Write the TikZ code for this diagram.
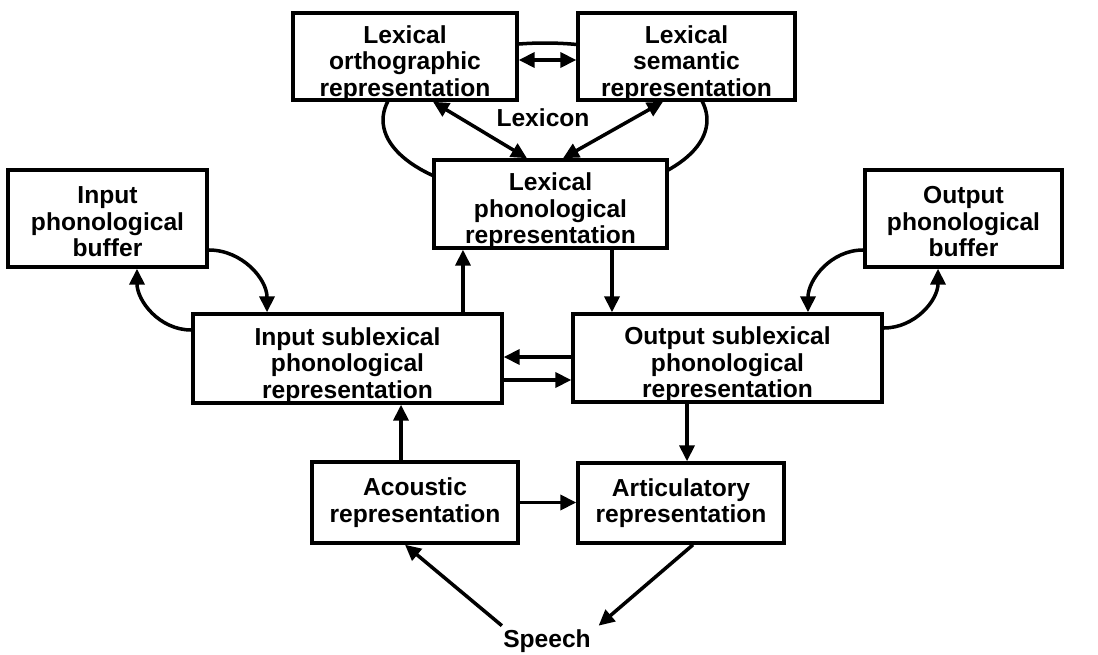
\documentclass[tikz,border=0pt]{standalone}
\usepackage{fontspec}
\setmainfont{Liberation Sans}
\usetikzlibrary{arrows.meta}

\begin{document}
\begin{tikzpicture}
[x=0.02cm,y=-0.02cm,
box/.style={draw,line width=2pt,fill=white,align=center,inner xsep=0pt,inner ysep=-4pt,font=\fontsize{14}{15.2}\selectfont\bfseries},
txt/.style={inner sep=2pt,font=\fontsize{14}{15.2}\selectfont\bfseries},
arr/.style={line width=2pt,-{Triangle[length=9pt,width=8.5pt]}},
dbl/.style={line width=2pt,{Triangle[length=9pt,width=8.5pt]}-{Triangle[length=9pt,width=8.5pt]}}]
\useasboundingbox (0,0) rectangle (1098,655);
% lexicon ring, behind the boxes
\draw[line width=2pt] (545,120) ellipse [x radius=3.24cm,y radius=1.54cm];
\node[box,minimum width=4.48cm,minimum height=1.74cm] (ortho) at (405,56.5) {\rule{0pt}{18pt}Lexical\\orthographic\\representation};
\node[box,minimum width=4.34cm,minimum height=1.74cm] (sem) at (686.5,56.5) {\rule{0pt}{18pt}Lexical\\semantic\\representation};
\node[box,minimum width=4.66cm,minimum height=1.76cm] (lexphon) at (550.5,204) {\rule{0pt}{18pt}Lexical\\phonological\\representation};
\node[box,minimum width=3.98cm,minimum height=1.94cm] (inbuf) at (107.5,218.5) {\rule{0pt}{13.5pt}Input\\phonological\\buffer};
\node[box,minimum width=3.94cm,minimum height=1.94cm] (outbuf) at (963.5,218.5) {\rule{0pt}{13.5pt}Output\\phonological\\buffer};
\node[box,minimum width=6.18cm,minimum height=1.78cm] (insub) at (347.5,358.5) {\rule{0pt}{18pt}Input sublexical\\phonological\\representation};
\node[box,minimum width=6.18cm,minimum height=1.76cm] (outsub) at (727.5,358) {\rule{0pt}{18pt}Output sublexical\\phonological\\representation};
\node[box,minimum width=4.12cm,minimum height=1.62cm] (acou) at (415,502.5) {Acoustic\\representation};
\node[box,minimum width=4.12cm,minimum height=1.60cm] (artic) at (681,503) {Articulatory\\representation};
\node[txt] (lexicon) at (543,118) {Lexicon};
\node[txt] (speech) at (547,641) {Speech};
% lexicon links
\draw[dbl] ([yshift=-0.07cm]ortho.east) -- ([yshift=-0.07cm]ortho.east -| sem.west);
\draw[dbl] ([xshift=0.56cm]ortho.south) -- ([xshift=-0.47cm]lexphon.north);
\draw[dbl] ([xshift=-0.47cm]sem.south) -- ([xshift=0.25cm]lexphon.north);
% sublexical route
\draw[arr] ([xshift=2.31cm]insub.north) -- ([xshift=2.31cm]insub.north |- lexphon.south);
\draw[arr] ([xshift=1.23cm]lexphon.south) -- ([xshift=1.23cm]lexphon.south |- outsub.north);
\draw[arr] ([yshift=-0.63cm]inbuf.east) to[out=0,in=90] ([xshift=-1.61cm]insub.north);
\draw[arr] ([yshift=0.57cm]insub.west) to[out=180,in=-90] ([xshift=0.59cm]inbuf.south);
\draw[arr] ([yshift=-0.63cm]outbuf.west) to[out=180,in=90] ([xshift=1.61cm]outsub.north);
\draw[arr] ([yshift=0.6cm]outsub.east) to[out=0,in=-90] ([xshift=-0.51cm]outbuf.south);
\draw[arr] ([yshift=0.02cm]outsub.west) -- ([yshift=0.02cm]outsub.west -| insub.east);
\draw[arr] ([yshift=-0.43cm]insub.east) -- ([yshift=-0.43cm]insub.east -| outsub.west);
% periphery
\draw[arr] ([xshift=-0.28cm]acou.north) -- ([xshift=-0.28cm]acou.north |- insub.south);
\draw[arr] ([xshift=-0.81cm]outsub.south) -- ([xshift=-0.81cm]outsub.south |- artic.north);
\draw[arr] (acou.east) -- (acou.east -| artic.west);
\draw[arr] ([xshift=0.05cm]speech.north west) -- ([xshift=-0.2cm]acou.south);
\draw[arr] ([xshift=0.24cm]artic.south) -- ([xshift=0.08cm]speech.north east);
\end{tikzpicture}
\end{document}
